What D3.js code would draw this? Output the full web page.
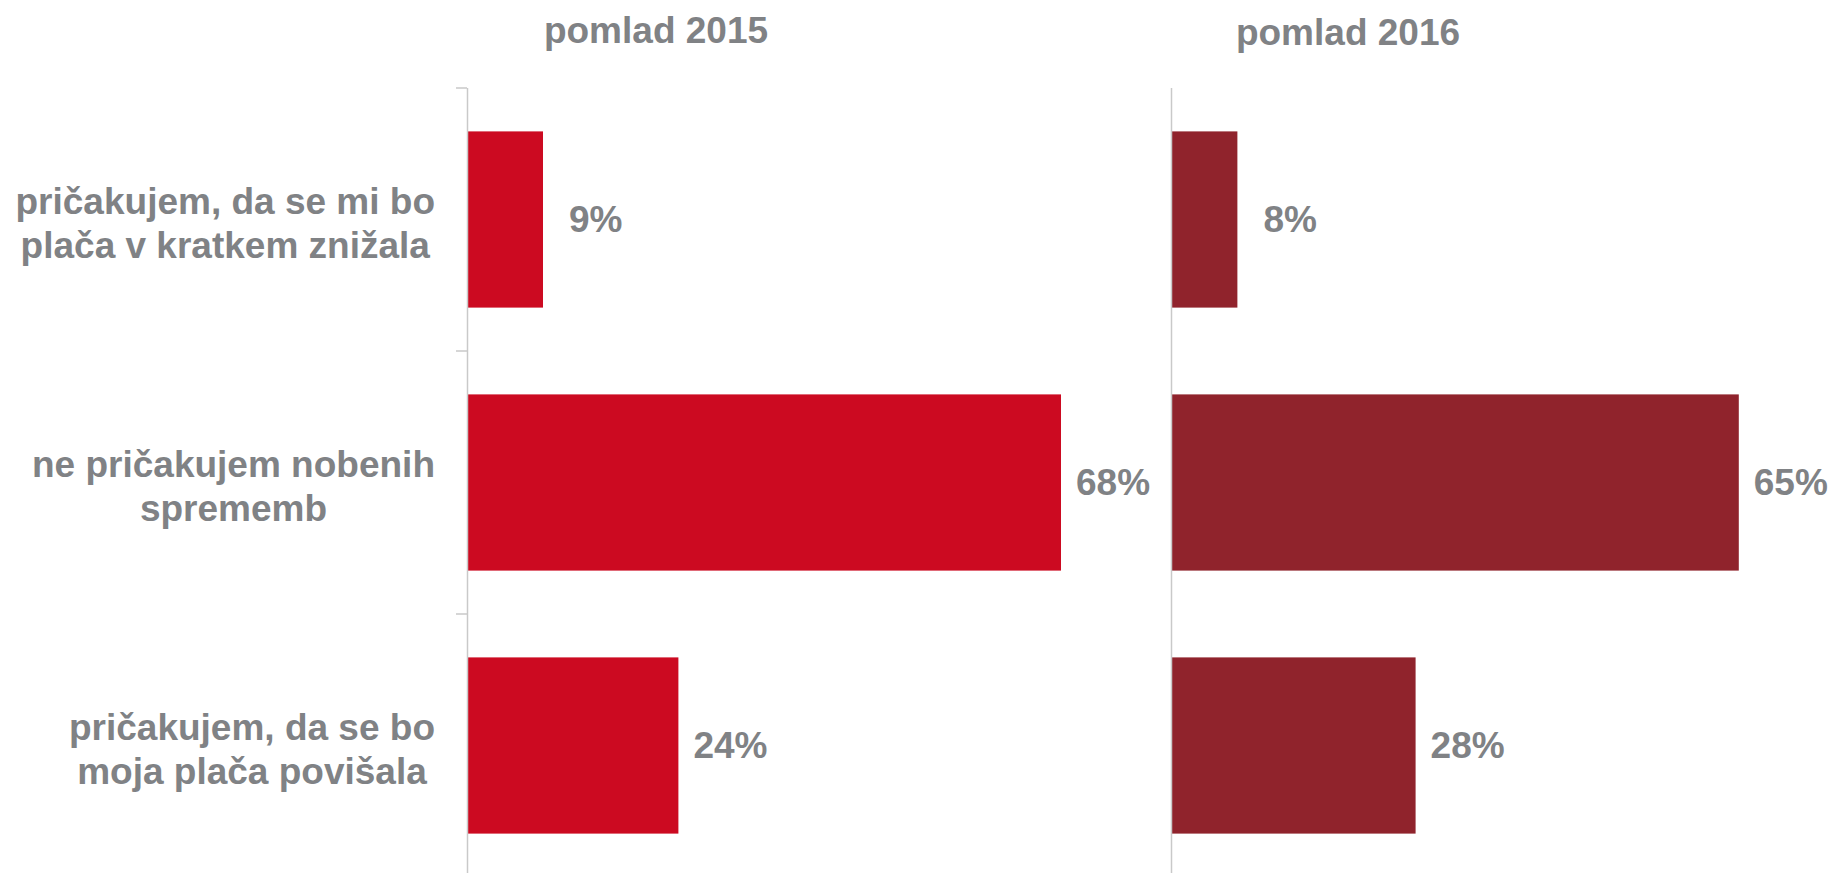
<!DOCTYPE html>
<html>
<head>
<meta charset="utf-8">
<script src="https://cdn.jsdelivr.net/npm/d3@7"></script>
<style>
  body { margin: 0; background: #fff; }
  text { font-family: "Liberation Sans", Arial, sans-serif; font-weight: bold; }
</style>
</head>
<body>
<script>
// Data
var categories = [
  ["pričakujem, da se mi bo", "plača v kratkem znižala"],
  ["ne pričakujem nobenih", "sprememb"],
  ["pričakujem, da se bo", "moja plača povišala"]
];
var keys = ["down", "same", "up"];
var seriesNames = ["pomlad 2015", "pomlad 2016"];
var values2015 = [8.7, 68, 24.2];
var values2016 = [7.6, 65, 28];
var colors = ["#cc0a21", "#90232c"];

var width = 1835, height = 873;
var grey = "#808285";
var fmt = d3.format(".0f");

var svg = d3.select("body").append("svg")
  .attr("width", width)
  .attr("height", height);

// shared scales
var y = d3.scaleBand()
  .domain(keys)
  .range([88, 877])
  .paddingInner(0.33)
  .paddingOuter(0.165);

var x = d3.scaleLinear()
  .domain([0, 68])
  .range([0, 594]);

var panels = [
  {name: seriesNames[0], values: values2015, color: colors[0], left: 467, titleX: 656, titleY: 43, ticks: true},
  {name: seriesNames[1], values: values2016, color: colors[1], left: 1171, titleX: 1348, titleY: 45, ticks: false}
];

panels.forEach(function(p) {
  var g = svg.append("g").attr("transform", "translate(" + p.left + ",0)");

  // bars
  g.selectAll(".bar")
    .data(p.values)
    .enter().append("rect")
    .attr("x", x(0))
    .attr("y", function(d, i) { return y(keys[i]); })
    .attr("width", function(d) { return x(d) - x(0); })
    .attr("height", y.bandwidth())
    .style("fill", p.color);

  // value labels
  g.selectAll(".val")
    .data(p.values)
    .enter().append("text")
    .attr("x", function(d) { return x(d) + (d < 10 ? 26 : 15); })
    .attr("y", function(d, i) { return y(keys[i]) + y.bandwidth() / 2; })
    .attr("dy", "0.35em")
    .style("font-size", "37px")
    .style("fill", grey)
    .text(function(d) { return fmt(d) + "%"; });

  // axis line
  g.append("line")
    .attr("x1", 0.5).attr("x2", 0.5)
    .attr("y1", 88).attr("y2", height)
    .style("stroke", "#c9c9c9")
    .style("stroke-width", 1.5);

  if (p.ticks) {
    var half = y.step() * y.paddingInner() / 2;
    g.selectAll(".tick")
      .data(keys)
      .enter().append("line")
      .attr("x1", -11).attr("x2", 0)
      .attr("y1", function(d) { return y(d) - half; })
      .attr("y2", function(d) { return y(d) - half; })
      .style("stroke", "#c9c9c9")
      .style("stroke-width", 1.5);
  }

  // title
  svg.append("text")
    .attr("x", p.titleX)
    .attr("y", p.titleY)
    .attr("text-anchor", "middle")
    .style("font-size", "37px")
    .style("fill", grey)
    .text(p.name);
});

// category labels: lines centred in a block right-aligned to x = 435
var rightEdge = 435;
categories.forEach(function(lines, i) {
  var t = svg.append("text")
    .style("font-size", "37px")
    .style("fill", grey)
    .attr("text-anchor", "middle");
  var cy = y(keys[i]) + y.bandwidth() / 2 + 4;
  var lh = 44;
  lines.forEach(function(line, j) {
    t.append("tspan")
      .attr("x", 0)
      .attr("y", cy + (j - (lines.length - 1) / 2) * lh)
      .attr("dy", "0.35em")
      .text(line);
  });
  var w = t.node().getBBox().width;
  t.selectAll("tspan").attr("x", rightEdge - w / 2);
});
</script>
</body>
</html>
